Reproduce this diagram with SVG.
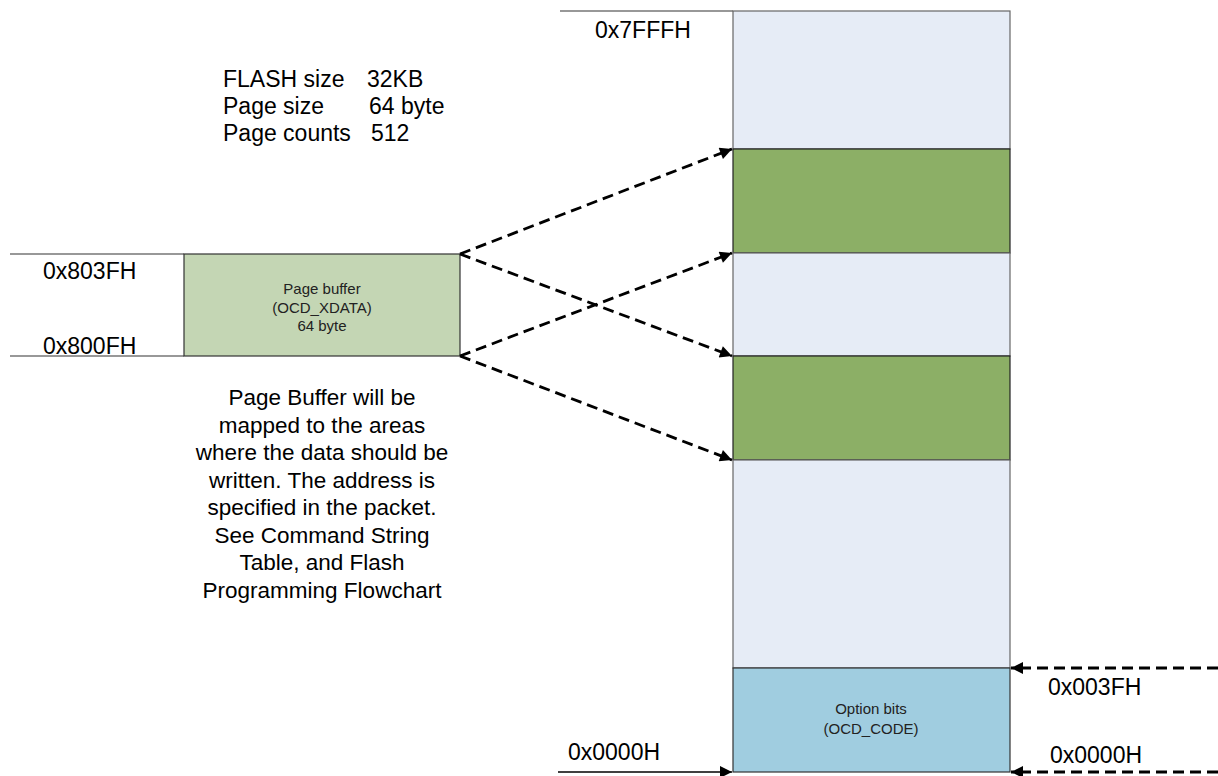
<svg xmlns="http://www.w3.org/2000/svg" width="1218" height="776" viewBox="0 0 1218 776">
  <style>
    .lbl { font-family: "Liberation Sans", Arial, sans-serif; font-size: 23px; fill: #000; }
    .small { font-family: "Liberation Sans", Arial, sans-serif; font-size: 15px; fill: #222; text-anchor: middle; }
    .desc { font-family: "Liberation Sans", Arial, sans-serif; font-size: 22.5px; fill: #000; text-anchor: middle; }
    .rule { stroke: #333; stroke-width: 1.2; fill: none; }
    .dash { stroke: #000; stroke-width: 2.8; stroke-dasharray: 11 6; fill: none; }
  </style>
  <defs>
    <marker id="ahs" viewBox="0 0 10 10" refX="10" refY="5" markerWidth="16" markerHeight="12" markerUnits="userSpaceOnUse" orient="auto">
      <path d="M0,0 L10,5 L0,10 z" fill="#000"/>
    </marker>
  </defs>

  <rect width="1218" height="776" fill="#fff"/>

  <!-- FLASH info -->
  <g id="flash-info">
    <text class="lbl" x="223" y="87">FLASH size</text>
    <text class="lbl" x="367" y="87">32KB</text>
    <text class="lbl" x="223" y="114">Page size</text>
    <text class="lbl" x="369" y="114">64 byte</text>
    <text class="lbl" x="223" y="141">Page counts</text>
    <text class="lbl" x="371" y="141">512</text>
  </g>

  <!-- Flash memory column -->
  <g id="flash-top">
    <line class="rule" x1="560" y1="11" x2="733" y2="11"/>
    <rect x="733" y="11" width="277" height="138" fill="#E6ECF6" stroke="#666" stroke-width="1.2"/>
    <text class="lbl" x="595" y="38">0x7FFFH</text>
  </g>
  <g id="page-a">
    <rect x="733" y="149" width="277" height="104" fill="#8CAF66" stroke="#222" stroke-width="1.2"/>
  </g>
  <g id="gap-a">
    <rect x="733" y="253" width="277" height="103" fill="#E6ECF6" stroke="#666" stroke-width="1.2"/>
  </g>
  <g id="page-b">
    <rect x="733" y="356" width="277" height="104" fill="#8CAF66" stroke="#222" stroke-width="1.2"/>
  </g>
  <g id="flash-free">
    <rect x="733" y="460" width="277" height="208" fill="#E6ECF6" stroke="#666" stroke-width="1.2"/>
  </g>
  <g id="option-bits">
    <rect x="733" y="668" width="277" height="104" fill="#A0CDE0" stroke="#333" stroke-width="1.2"/>
    <text class="small" x="871" y="714">Option bits</text>
    <text class="small" x="871" y="734">(OCD_CODE)</text>
    <text class="lbl" x="568" y="760">0x0000H</text>
    <text class="lbl" x="1048" y="695">0x003FH</text>
    <text class="lbl" x="1050" y="763">0x0000H</text>
  </g>

  <!-- Page buffer -->
  <g id="page-buffer">
    <line class="rule" x1="10" y1="254" x2="184" y2="254"/>
    <line class="rule" x1="10" y1="356" x2="184" y2="356"/>
    <rect x="184" y="254" width="276" height="102" fill="#C4D6B4" stroke="#333" stroke-width="1.2"/>
    <text class="lbl" x="43" y="279">0x803FH</text>
    <text class="lbl" x="43" y="354">0x800FH</text>
    <text class="small" x="322" y="294">Page buffer</text>
    <text class="small" x="322" y="313">(OCD_XDATA)</text>
    <text class="small" x="322" y="331">64 byte</text>
  </g>

  <!-- Description -->
  <g id="description">
    <text class="desc" x="322" y="405">Page Buffer will be</text>
    <text class="desc" x="322" y="432.5">mapped to the areas</text>
    <text class="desc" x="322" y="460">where the data should be</text>
    <text class="desc" x="322" y="487.5">written. The address is</text>
    <text class="desc" x="322" y="515">specified in the packet.</text>
    <text class="desc" x="322" y="542.5">See Command String</text>
    <text class="desc" x="322" y="570">Table, and Flash</text>
    <text class="desc" x="322" y="597.5">Programming Flowchart</text>
  </g>

  <!-- Connectors -->
  <g id="connectors">
    <line class="dash" x1="460" y1="254" x2="732" y2="149" marker-end="url(#ahs)"/>
    <line class="dash" x1="460" y1="254" x2="732" y2="356" marker-end="url(#ahs)"/>
    <line class="dash" x1="460" y1="356" x2="732" y2="253" marker-end="url(#ahs)"/>
    <line class="dash" x1="460" y1="356" x2="732" y2="460" marker-end="url(#ahs)"/>
    <line x1="558" y1="772" x2="732" y2="772" stroke="#000" stroke-width="1.5" marker-end="url(#ahs)"/>
    <line class="dash" x1="1218" y1="668" x2="1011" y2="668" marker-end="url(#ahs)"/>
    <line class="dash" x1="1218" y1="772" x2="1011" y2="772" marker-end="url(#ahs)"/>
  </g>
</svg>
